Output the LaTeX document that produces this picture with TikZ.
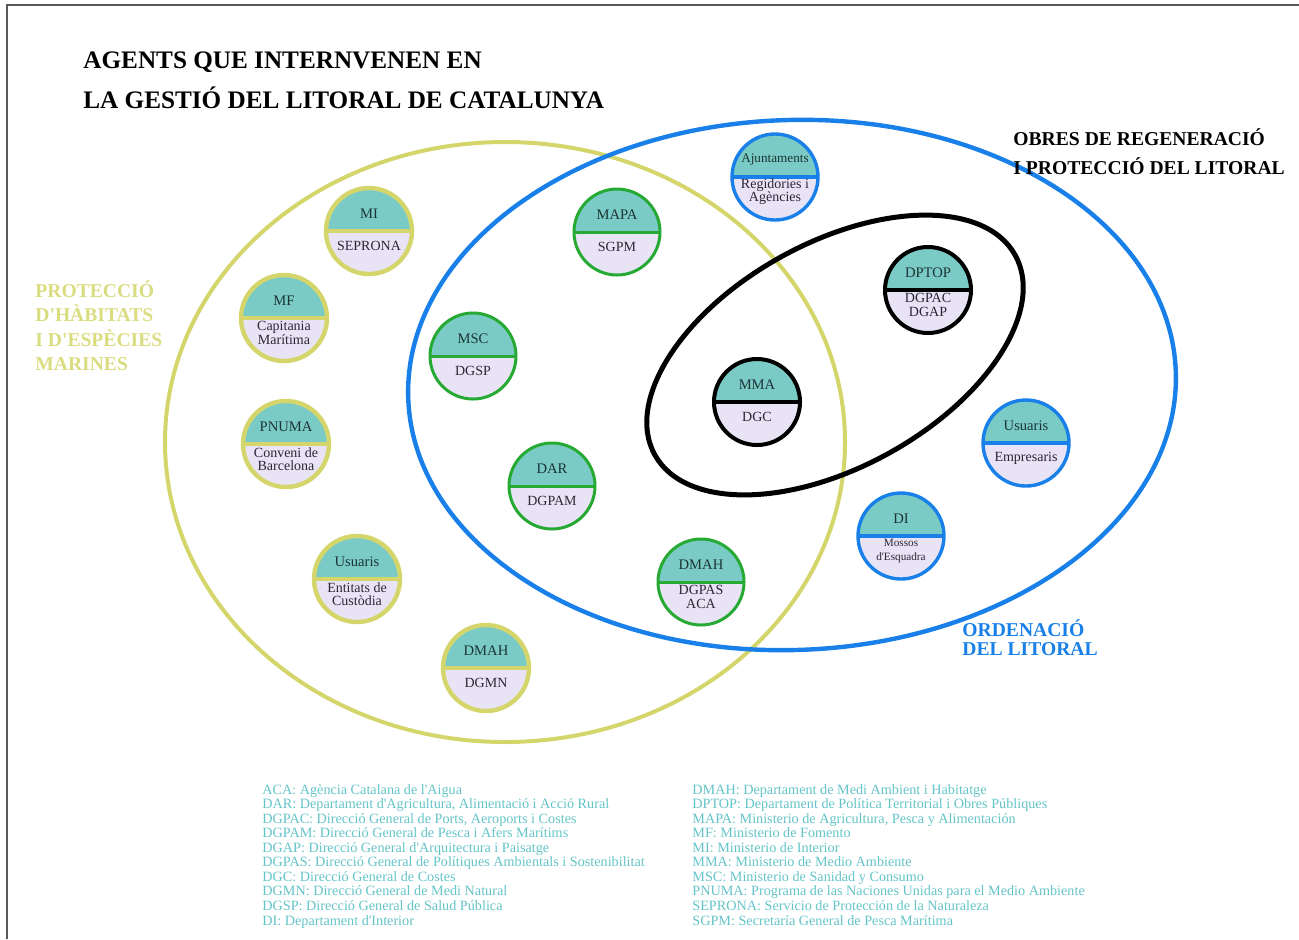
\documentclass[tikz,border=0pt]{standalone}
\usepackage{fontspec}
\setmainfont{Liberation Serif}

\definecolor{gelb}{RGB}{212,214,108}
\definecolor{gelbtext}{RGB}{218,220,128}
\definecolor{gruen}{RGB}{38,170,52}
\definecolor{blau}{RGB}{24,128,232}
\definecolor{schwarz}{RGB}{0,0,0}
\definecolor{kopf}{RGB}{122,203,198}
\definecolor{fuss}{RGB}{232,228,246}
\definecolor{textoben}{RGB}{28,52,52}
\definecolor{textunten}{RGB}{45,38,55}
\definecolor{legtext}{RGB}{100,196,200}

\newcommand{\apo}{\textquotesingle}

\tikzset{
    agent/.style={circle, draw=#1, minimum size=43pt, inner sep=0pt,
        path picture={
            \fill[kopf] (path picture bounding box.north west) rectangle (path picture bounding box.east);
            \fill[fuss] (path picture bounding box.west) rectangle (path picture bounding box.south east);
            \draw[#1] (path picture bounding box.west) -- (path picture bounding box.east);
        }},
    gelb-r/.style={line width=2.2pt},
    gruen-r/.style={line width=1.5pt},
    blau-r/.style={line width=1.7pt},
    schwarz-r/.style={line width=2pt},
    oben/.style={font=\fontsize{7.3}{7.3}\selectfont, text=textoben, inner sep=0pt},
    unten/.style={font=\fontsize{7}{6.6}\selectfont, text=textunten, align=center, inner sep=0pt},
    titel/.style={font=\fontsize{12.6}{14}\selectfont\bfseries, anchor=base west, inner sep=0pt},
    kat/.style={font=\fontsize{9.8}{11}\selectfont\bfseries, anchor=base west, inner sep=0pt},
    legende/.style={font=\fontsize{7.1}{7.3}\selectfont, text=legtext, anchor=base west, inner sep=0pt}
}

\begin{document}
\begin{tikzpicture}[x=0.5pt, y=-0.5pt]
    \useasboundingbox (0,0) rectangle (1299,939);

    % Rahmen
    \draw[line width=1pt, black!65] (7,939) -- (7,5) -- (1299,5);

    % Titel
    \node[titel] (titel1) at (83,68) {AGENTS QUE INTERNVENEN EN};
    \node[titel] (titel2) at (83,108) {LA GESTIÓ DEL LITORAL DE CATALUNYA};

    % Bereiche
    \draw[gelb, line width=2pt] (505,442) ellipse [x radius=170pt, y radius=150pt];
    \draw[blau, line width=2.2pt, rotate around={2:(792,385)}] (792,385) ellipse [x radius=192pt, y radius=132.5pt];
    \draw[schwarz, line width=2.5pt, rotate around={29:(835,355)}] (835,355) ellipse [x radius=103pt, y radius=56pt];

    % Beschriftung der Bereiche
    \foreach \t [count=\i] in {PROTECCIÓ, D\apo HÀBITATS, I D\apo ESPÈCIES, MARINES}
        \node[kat, text=gelbtext] (prot\i) at (35,{297+24.5*(\i-1)}) {\t};
    \node[kat] (obres1) at (1013,145) {OBRES DE REGENERACIÓ};
    \node[kat] (obres2) at (1013,174) {I PROTECCIÓ DEL LITORAL};
    \node[kat, text=blau] (orden1) at (962,636) {ORDENACIÓ};
    \node[kat, text=blau] (orden2) at (962,655) {DEL LITORAL};

    % Agenten
    \foreach \n/\x/\y/\rand/\ka/\fu in {
        mi/369/231/gelb/MI/SEPRONA,
        mf/284/318/gelb/MF/{Capitania\\Marítima},
        pnuma/286/444/gelb/PNUMA/{Conveni de\\Barcelona},
        usucus/357/579/gelb/Usuaris/{Entitats de\\Custòdia},
        dmahmn/486/668/gelb/DMAH/DGMN,
        mapa/617/232/gruen/MAPA/SGPM,
        msc/473/356/gruen/MSC/DGSP,
        dar/552/486/gruen/DAR/DGPAM,
        dmahpas/701/582/gruen/DMAH/{DGPAS\\ACA},
        ajunt/775/177/blau/{\fontsize{6.6}{7}\selectfont Ajuntaments}/{Regidories i\\Agències},
        usuemp/1026/443/blau/Usuaris/Empresaris,
        di/901/536/blau/DI/{\fontsize{5.6}{6}\selectfont Mossos\\\fontsize{5.6}{6}\selectfont d\apo Esquadra},
        dptop/928/290/schwarz/DPTOP/{DGPAC\\DGAP},
        mma/757/402/schwarz/MMA/DGC} {
        \node[agent=\rand, \rand-r] (\n) at (\x,\y) {};
        \node[oben] (\n-o) at ([yshift=8.5pt]\n.center) {\ka};
        \node[unten] (\n-u) at ([yshift=-7.5pt]\n.center) {\fu};
    }

    % Legende
    \foreach \t [count=\i] in {ACA: Agència Catalana de l\apo Aigua,
        {DAR: Departament d\apo Agricultura, Alimentació i Acció Rural},
        {DGPAC: Direcció General de Ports, Aeroports i Costes},
        DGPAM: Direcció General de Pesca i Afers Marítims,
        DGAP: Direcció General d\apo Arquitectura i Paisatge,
        DGPAS: Direcció General de Polítiques Ambientals i Sostenibilitat,
        DGC: Direcció General de Costes,
        DGMN: Direcció General de Medi Natural,
        DGSP: Direcció General de Salud Pública,
        DI: Departament d\apo Interior}
        \node[legende] (legl\i) at (262,{794+14.56*(\i-1)}) {\t};
    \foreach \t [count=\i] in {DMAH: Departament de Medi Ambient i Habitatge,
        DPTOP: Departament de Política Territorial i Obres Públiques,
        {MAPA: Ministerio de Agricultura, Pesca y Alimentación},
        MF: Ministerio de Fomento,
        MI: Ministerio de Interior,
        MMA: Ministerio de Medio Ambiente,
        MSC: Ministerio de Sanidad y Consumo,
        PNUMA: Programa de las Naciones Unidas para el Medio Ambiente,
        SEPRONA: Servicio de Protección de la Naturaleza,
        SGPM: Secretaría General de Pesca Marítima}
        \node[legende] (legr\i) at (692,{794+14.56*(\i-1)}) {\t};
\end{tikzpicture}
\end{document}
